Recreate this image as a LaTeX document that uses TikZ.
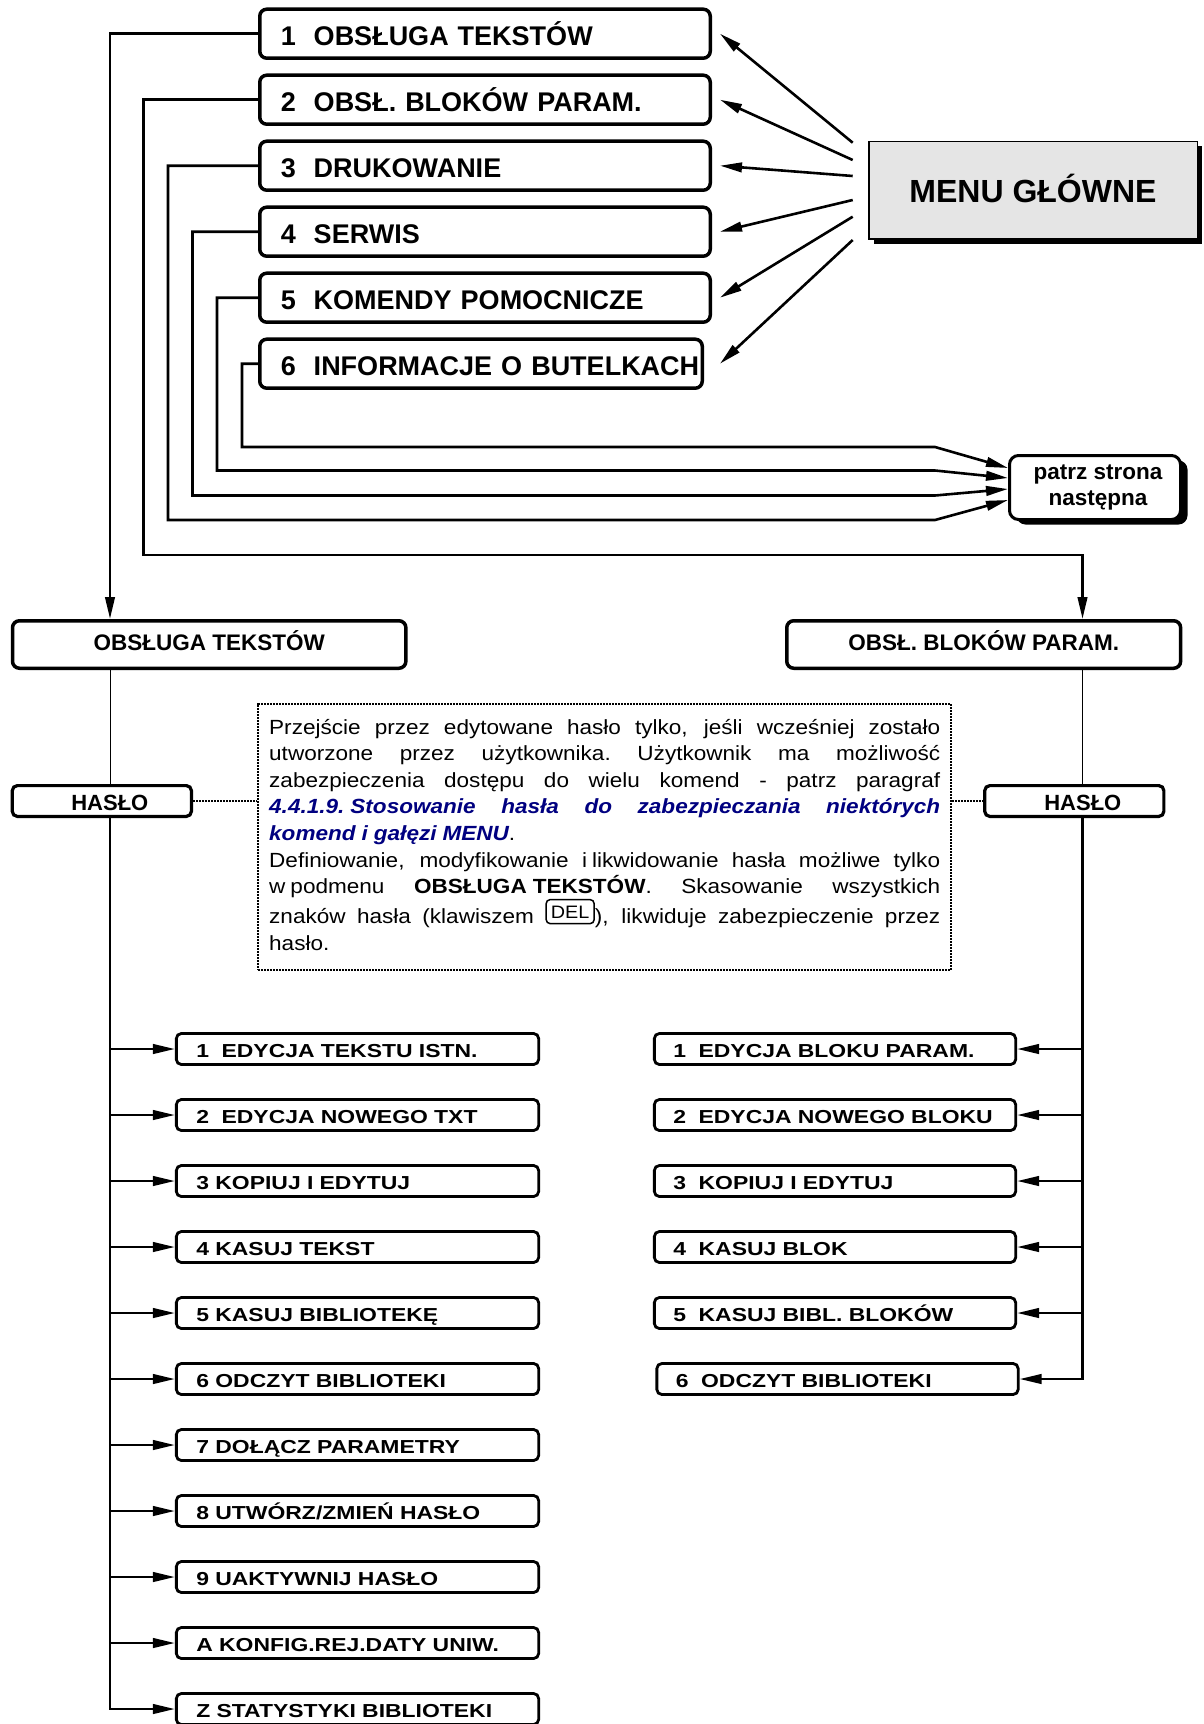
\documentclass[tikz,border=0pt]{standalone}
\usepackage{fontspec}
\setmainfont{Liberation Sans}
\newfontfamily\notefont[FakeStretch=1.1]{Liberation Sans}
\newfontfamily\itemfont[FakeStretch=1.22]{Liberation Sans}
\usetikzlibrary{arrows.meta,calc,shadows}
\definecolor{linkblue}{RGB}{0,0,128}
\begin{document}
\begin{tikzpicture}[x=1pt,y=-1pt,
  conn/.style={line width=2.6pt},
  thinconn/.style={line width=1pt},
  dots/.style={line width=2pt,densely dotted},
  arr/.style={-{Triangle[length=22pt,width=9.5pt]}},
  topbox/.style={draw,line width=3.5pt,rounded corners=7pt,minimum height=49pt,
    inner xsep=21pt,inner ysep=0pt,align=left,
    font=\fontsize{27}{30}\selectfont\bfseries,text height=24pt,text depth=1pt},
  mainbox/.style={draw,line width=3.5pt,rounded corners=7pt,minimum height=47.5pt,
    inner sep=0pt,font=\fontsize{22.5}{26}\selectfont\bfseries,text height=14pt,text depth=1.6pt},
  pwbox/.style={draw,line width=3.2pt,rounded corners=5pt,minimum width=179.1pt,minimum height=30.8pt,
    inner sep=0pt,font=\fontsize{22}{24}\selectfont\bfseries,text height=19pt,text depth=1pt},
  itembox/.style={draw,line width=2.8pt,rounded corners=5pt,minimum height=31pt,
    inner ysep=0pt,align=left,
    font=\itemfont\fontsize{18.8}{20}\selectfont\bfseries,text height=17.5pt,text depth=1pt},
  itemL/.style={itembox,inner xsep=20pt,text width=322.3pt},
  itemR/.style={itembox,inner xsep=19pt,text width=323.3pt},
  shadowed/.style={drop shadow={shadow xshift=#1, shadow yshift=-5pt, fill=black, opacity=1}}
]
\useasboundingbox (0,0) rectangle (1204,1724);

% --- top menu entries
\node[topbox,text width=408.5pt] (t1) at (485,33.7) {1~~OBSŁUGA TEKSTÓW};
\node[topbox,text width=408.5pt] (t2) at (485,99.7) {2~~OBSŁ. BLOKÓW PARAM.};
\node[topbox,text width=408.5pt] (t3) at (485,165.7) {3~~DRUKOWANIE};
\node[topbox,text width=408.5pt] (t4) at (485,231.7) {4~~SERWIS};
\node[topbox,text width=408.5pt] (t5) at (485,297.7) {5~~KOMENDY POMOCNICZE};
\node[topbox,text width=400.5pt] (t6) at (481,363.7) {\mbox{6~~INFORMACJE O BUTELKACH}};

% --- main menu
\node[draw,line width=1.5pt,fill=black!10,minimum width=328.5pt,minimum height=97.7pt,
  inner sep=0pt,font=\fontsize{32}{36}\selectfont\bfseries,text height=26pt,text depth=1.2pt,
  shadowed=5pt] (menu) at (1033,190.3) {MENU GŁÓWNE};

% --- see next page
\node[draw,line width=3pt,rounded corners=9pt,fill=white,minimum width=171pt,minimum height=64pt,
  inner sep=0pt,align=center,font=\fontsize{22.5}{26.7}\selectfont\bfseries,
  shadowed=7pt] (patrz) at (1095,487.5) {\hspace*{6pt}patrz strona\\\hspace*{6pt}następna};

% --- submenu heads
\node[mainbox,minimum width=393.4pt] (ot) at (209.2,644.5) {OBSŁUGA TEKSTÓW};
\node[mainbox,minimum width=393.9pt] (ob) at (983.7,644.5) {OBSŁ. BLOKÓW PARAM.};
\node[pwbox] (h1) at (101.85,801) {\hspace*{16pt}HASŁO};
\node[pwbox] (h2) at (1074.3,801) {\hspace*{17pt}HASŁO};

% --- note
\node[draw,dots,minimum width=692.5pt,minimum height=266.5pt,inner sep=0pt] (note) at (604.7,837) {};
\node[anchor=base west,inner sep=0pt,text width=671pt,align=justify,
  font=\notefont\fontsize{20.5}{26.55}\selectfont] (notetext) at (269,734.3)
 {\spaceskip=6pt plus 60pt minus 1pt\xspaceskip=6pt plus 60pt minus 1pt\hyphenpenalty=10000
  \lineskiplimit=-100pt\lineskip=0pt
  Przejście przez edytowane hasło tylko, jeśli wcześniej zostało\linebreak
  utworzone przez użytkownika. Użytkownik ma możliwość\linebreak
  zabezpieczenia dostępu do wielu komend - patrz paragraf\linebreak
  {\bfseries\itshape\color{linkblue}4.4.1.9.\hspace{6pt}Stosowanie hasła do zabezpieczania niektórych\linebreak
  komend i gałęzi MENU}.\par
  Definiowanie, modyfikowanie i\hspace{5pt}likwidowanie hasła możliwe tylko\linebreak
  w\hspace{5pt}podmenu \textbf{OBSŁUGA\hspace{6pt}TEKSTÓW}. Skasowanie wszystkich\linebreak
  znaków hasła (klawiszem \tikz[baseline={([yshift=0.5pt]delk.south)}]\node[draw,line width=1.5pt,
    rounded corners=4pt,inner xsep=2pt,inner ysep=0pt,minimum height=24pt,minimum width=48pt,
    font=\fontsize{18}{18}\selectfont,text height=13pt,text depth=0pt] (delk) {DEL};), likwiduje zabezpieczenie przez\linebreak
  hasło.};

% --- left items
\node[itemL] (L1) at (357.5,1049) {1~~EDYCJA TEKSTU ISTN.};
\node[itemL] (L2) at (357.5,1115) {2~~EDYCJA NOWEGO TXT};
\node[itemL] (L3) at (357.5,1181) {3 KOPIUJ I EDYTUJ};
\node[itemL] (L4) at (357.5,1247) {4 KASUJ TEKST};
\node[itemL] (L5) at (357.5,1313) {5 KASUJ BIBLIOTEKĘ};
\node[itemL] (L6) at (357.5,1379) {6 ODCZYT BIBLIOTEKI};
\node[itemL] (L7) at (357.5,1445) {7 DOŁĄCZ PARAMETRY};
\node[itemL] (L8) at (357.5,1511) {8 UTWÓRZ/ZMIEŃ HASŁO};
\node[itemL] (L9) at (357.5,1577) {9 UAKTYWNIJ HASŁO};
\node[itemL] (L10) at (357.5,1643) {A KONFIG.REJ.DATY UNIW.};
\node[itemL] (L11) at (357.5,1709) {Z STATYSTYKI BIBLIOTEKI};

% --- right items
\node[itemR] (R1) at (835,1049) {1~~EDYCJA BLOKU PARAM.};
\node[itemR] (R2) at (835,1115) {2~~EDYCJA NOWEGO BLOKU};
\node[itemR] (R3) at (835,1181) {3~~KOPIUJ I EDYTUJ};
\node[itemR] (R4) at (835,1247) {4~~KASUJ BLOK};
\node[itemR] (R5) at (835,1313) {5~~KASUJ BIBL. BLOKÓW};
\node[itemR] (R6) at (837.5,1379) {6~~ODCZYT BIBLIOTEKI};

% --- helper coordinates
\coordinate (lx) at (110,0);
\coordinate (rx) at (1082.5,0);
\coordinate (kx) at (935,0);
\coordinate (b2) at (143.5,555);
\coordinate (b3) at (168,520);
\coordinate (b4) at (192.5,495.5);
\coordinate (b5) at (217,470.5);
\coordinate (b6) at (242,447);
\coordinate (p3) at ($(patrz.west)+(0,12.5)$);
\coordinate (p4) at ($(patrz.west)+(0,1.5)$);
\coordinate (p5) at ($(patrz.west)+(0,-9.5)$);
\coordinate (p6) at ($(patrz.west)+(0,-19.5)$);
\coordinate (m1) at ($(menu.west)+(-15.3,-47.6)$);
\coordinate (m2) at ($(menu.west)+(-15.3,-30.3)$);
\coordinate (m3) at ($(menu.west)+(-15.3,-14.3)$);
\coordinate (m4) at ($(menu.west)+(-15.3,9.7)$);
\coordinate (m5) at ($(menu.west)+(-15.3,26.4)$);
\coordinate (m6) at ($(menu.west)+(-15.3,49.7)$);
\coordinate (e1) at ($(t1.east)+(8,0)$);
\coordinate (e2) at ($(t2.east)+(8,0)$);
\coordinate (e3) at ($(t3.east)+(8,0)$);
\coordinate (e4) at ($(t4.east)+(8,0)$);
\coordinate (e5) at ($(t5.east)+(8,0)$);
\coordinate (e6) at ($(t6.east)+(16,0)$);

% --- menu arrows
\foreach \k in {1,...,6} \draw[conn,arr] (m\k) -- (e\k);

% --- top connectors
\draw[conn,arr] (t1.west) -| (lx |- ot.north);
\draw[conn,arr] (t2.west) -| (b2) -| (rx |- ob.north);
\foreach \k in {3,...,6} \draw[conn,arr] (t\k.west) -| (b\k) -- (b\k -| kx) -- (p\k);

% --- submenu links
\draw[thinconn] (lx |- ot.south) -- (lx |- h1.north);
\draw[thinconn] (rx |- ob.south) -- (rx |- h2.north);
\draw[dots] (h1.east) -- (h1.east -| note.west);
\draw[dots] (note.east |- h2.west) -- (h2.west);

\foreach \k in {1,...,10} \draw[conn,arr] (lx |- L\k.west) -- (L\k.west);
\draw[conn,arr] (lx |- h1.south) |- (L11.west);
\foreach \k in {1,...,5} \draw[conn,arr] (rx |- R\k.east) -- (R\k.east);
\draw[conn,arr] (rx |- h2.south) |- (R6.east);
\end{tikzpicture}
\end{document}
